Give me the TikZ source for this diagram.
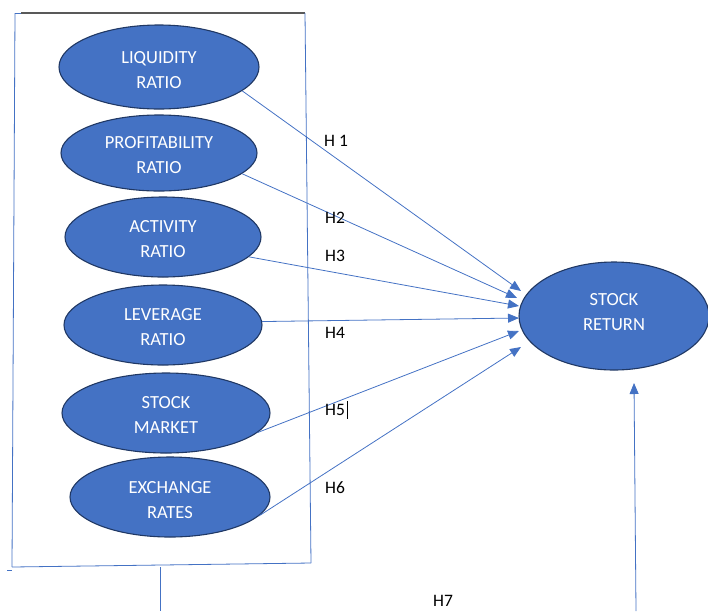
\documentclass[tikz,border=0pt]{standalone}
\usepackage{fontspec}
\setmainfont{Carlito}
\usetikzlibrary{shapes.geometric,arrows.meta}
\definecolor{fillblue}{HTML}{4472C4}
\definecolor{edgeblue}{HTML}{203864}
\definecolor{lineblue}{HTML}{4472C4}
\newcommand{\vtxt}[2][0pt]{\raisebox{#1}[\height][\depth]{\begin{tabular}{@{}c@{}}#2\end{tabular}}}
\tikzset{
  var/.style={ellipse, draw=edgeblue, line width=1.1pt, fill=fillblue, text=white,
    inner sep=0pt, font=\fontsize{18.5}{25}\selectfont},
  hyp/.style={anchor=west, inner sep=0pt, text=black, font=\fontsize{17.5}{20}\selectfont},
  link/.style={draw=lineblue, line width=0.8pt, -{Triangle[length=11pt,width=9pt]}},
  frame/.style={draw=lineblue, line width=0.8pt},
}
\begin{document}
\begin{tikzpicture}[x=1pt,y=-1pt]
\useasboundingbox (0,0) rectangle (708,611);
% frame
\draw[frame] (15,13) -- (12,567);
\draw[frame] (15,13) -- (21,13);
\draw[draw=black!65, line width=1.1pt] (21,13) -- (305,13);
\draw[frame] (305,13) -- (311,563);
\draw[frame] (12,567) -- (311,563);
\draw[frame] (7,570) -- (12,570);
\draw[frame] (160,567) -- (160,611);
% variables
\node[var, minimum width=200pt, minimum height=84pt] (liq) at (159,67) {\vtxt[-3.5pt]{LIQUIDITY\\RATIO}};
\node[var, minimum width=196pt, minimum height=76pt] (prof) at (159,153) {\vtxt[-2.5pt]{PROFITABILITY\\RATIO}};
\node[var, minimum width=196pt, minimum height=80pt] (act) at (163,237) {\vtxt[-2.5pt]{ACTIVITY\\RATIO}};
\node[var, minimum width=198pt, minimum height=80pt] (lev) at (163,325) {\vtxt[-2.5pt]{LEVERAGE\\RATIO}};
\node[var, minimum width=208pt, minimum height=80pt] (mkt) at (166,413) {\vtxt[-3pt]{STOCK\\MARKET}};
\node[var, minimum width=200pt, minimum height=80pt] (exc) at (170,497) {\vtxt[-4pt]{EXCHANGE\\RATES}};
\node[var, minimum width=190pt, minimum height=108pt] (ret) at (614,316) {\vtxt[3.5pt]{STOCK\\RETURN}};
% arrow targets
\coordinate (t1) at (521,291);
\coordinate (t2) at (517,298);
\coordinate (t3) at (519,306);
\coordinate (t4) at (519,318);
\coordinate (t5) at (519,331);
\coordinate (t6) at (521,347);
\coordinate (t7) at (634,383);
\coordinate (b7) at (636,611);
\draw[link] (liq.-16) -- (t1);
\draw[link] (prof.-14) -- (t2);
\draw[link] (act.-13) -- (t3);
\draw[link] (lev.2) -- (t4);
\draw[link] (mkt.-12) -- (t5);
\draw[link] (exc.-12) -- (t6);
\draw[link] (b7) -- (t7);
% labels
\node[hyp] (h1) at (324,141) {H 1};
\node[hyp] (h2) at (325,218) {H2};
\node[hyp] (h3) at (325,256) {H3};
\node[hyp] (h4) at (325,333) {H4};
\node[hyp] (h5) at (325,410) {H5};
\draw[black, line width=0.5pt] (347,401) -- (347,419);
\node[hyp] (h6) at (325,488) {H6};
\node[hyp] (h7) at (433,601) {H7};
\end{tikzpicture}
\end{document}
